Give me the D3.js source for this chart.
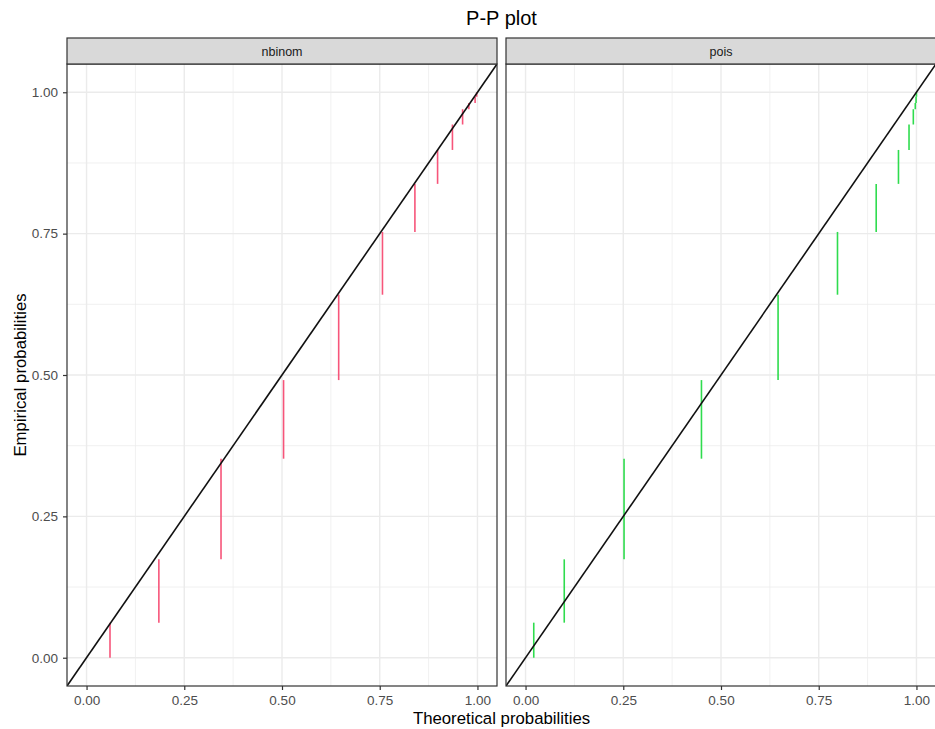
<!DOCTYPE html>
<html>
<head>
<meta charset="utf-8">
<script src="https://cdn.jsdelivr.net/npm/d3@7"></script>
<style>
  html, body { margin: 0; padding: 0; background: #ffffff; }
  svg { display: block; font-family: "Liberation Sans", Arial, Helvetica, sans-serif; }
</style>
</head>
<body>
<svg id="chart" width="935" height="729"></svg>
<script>
// ---- data ----
const panels = ["nbinom", "pois"];
const empiricalSteps = [0, 0.062, 0.174, 0.352, 0.491, 0.642, 0.753, 0.838, 0.898, 0.943, 0.970, 0.981, 0.992, 1.0];
const nbinomTheo = [0.060, 0.185, 0.344, 0.504, 0.645, 0.757, 0.840, 0.898, 0.936, 0.962, 0.978, 0.994, 0.998];
const poisTheo   = [0.021, 0.099, 0.252, 0.450, 0.646, 0.798, 0.897, 0.954, 0.981, 0.992, 0.997, 0.999, 1.0];
const tickValues = [0, 0.25, 0.5, 0.75, 1.0];
const tickLabels = ["0.00", "0.25", "0.50", "0.75", "1.00"];
const minorValues = [0.125, 0.375, 0.625, 0.875];
const panelColors = ["#F7557A", "#2FDC4E"];
const titleText = "P-P plot";
const xTitle = "Theoretical probabilities";
const yTitle = "Empirical probabilities";

const theoByPanel = { nbinom: nbinomTheo, pois: poisTheo };

// ---- layout ----
const svg = d3.select("#chart");
const panelTop = 64, panelBottom = 686;
const stripTop = 38;
const panelLefts = [67, 506];
const panelW = 430;

const y = d3.scaleLinear().domain([-0.05, 1.05]).range([panelBottom, panelTop]);

const gridCol = "#EBEBEB";
const borderCol = "#333333";

svg.append("defs").selectAll("clipPath").data(panels).join("clipPath")
  .attr("id", (d, i) => "clip" + i)
  .append("rect")
  .attr("x", (d, i) => panelLefts[i]).attr("y", panelTop)
  .attr("width", panelW).attr("height", panelBottom - panelTop);

panels.forEach((p, i) => {
  const x0 = panelLefts[i];
  const x = d3.scaleLinear().domain([-0.05, 1.05]).range([x0, x0 + panelW]);
  const g = svg.append("g");
  const gc = g.append("g").attr("clip-path", `url(#clip${i})`);

  // background
  gc.append("rect").attr("x", x0).attr("y", panelTop).attr("width", panelW)
    .attr("height", panelBottom - panelTop).attr("fill", "#fff");

  // minor grid
  minorValues.forEach(v => {
    gc.append("line").attr("x1", x(v)).attr("x2", x(v)).attr("y1", panelTop).attr("y2", panelBottom)
      .attr("stroke", gridCol).attr("stroke-width", 0.7);
    gc.append("line").attr("x1", x0).attr("x2", x0 + panelW).attr("y1", y(v)).attr("y2", y(v))
      .attr("stroke", gridCol).attr("stroke-width", 0.7);
  });
  // major grid
  tickValues.forEach(v => {
    gc.append("line").attr("x1", x(v)).attr("x2", x(v)).attr("y1", panelTop).attr("y2", panelBottom)
      .attr("stroke", gridCol).attr("stroke-width", 1.4);
    gc.append("line").attr("x1", x0).attr("x2", x0 + panelW).attr("y1", y(v)).attr("y2", y(v))
      .attr("stroke", gridCol).attr("stroke-width", 1.4);
  });

  // segments
  const theo = theoByPanel[p];
  const segs = theo.map((t, k) => ({ t, lo: empiricalSteps[k], hi: empiricalSteps[k + 1] }));
  gc.selectAll("line.seg").data(segs).join("line").attr("class", "seg")
    .attr("x1", d => x(d.t)).attr("x2", d => x(d.t))
    .attr("y1", d => y(d.lo)).attr("y2", d => y(d.hi))
    .attr("stroke", panelColors[i]).attr("stroke-width", 1.6);

  // diagonal
  gc.append("line").attr("x1", x(-0.05)).attr("y1", y(-0.05)).attr("x2", x(1.05)).attr("y2", y(1.05))
    .attr("stroke", "#111").attr("stroke-width", 1.6);

  // border
  g.append("rect").attr("x", x0).attr("y", panelTop).attr("width", panelW)
    .attr("height", panelBottom - panelTop).attr("fill", "none")
    .attr("stroke", borderCol).attr("stroke-width", 1.2);

  // strip
  g.append("rect").attr("x", x0).attr("y", stripTop).attr("width", panelW)
    .attr("height", panelTop - stripTop).attr("fill", "#D9D9D9")
    .attr("stroke", borderCol).attr("stroke-width", 1.2);
  g.append("text").attr("x", x0 + panelW / 2).attr("y", 55.5)
    .attr("text-anchor", "middle").attr("font-size", 12.5).attr("fill", "#1A1A1A").text(p);

  // x axis
  const xAxis = d3.axisBottom(x).tickValues(tickValues)
    .tickFormat((d, k) => tickLabels[k]).tickSize(4).tickPadding(5);
  const ax = g.append("g").attr("transform", `translate(0,${panelBottom})`).call(xAxis);
  ax.select(".domain").remove();
  ax.selectAll(".tick line").attr("stroke", borderCol).attr("stroke-width", 1.2);
  ax.selectAll(".tick text").attr("fill", "#4D4D4D").attr("font-size", 13.5)
    .attr("font-family", "Liberation Sans, Arial, sans-serif");
});

// y axis (left panel only)
const yAxis = d3.axisLeft(y).tickValues(tickValues)
  .tickFormat((d, k) => tickLabels[k]).tickSize(4).tickPadding(5);
const ay = svg.append("g").attr("transform", `translate(${panelLefts[0]},0)`).call(yAxis);
ay.select(".domain").remove();
ay.selectAll(".tick line").attr("stroke", borderCol).attr("stroke-width", 1.2);
ay.selectAll(".tick text").attr("fill", "#4D4D4D").attr("font-size", 13.5)
  .attr("font-family", "Liberation Sans, Arial, sans-serif");

// titles
svg.append("text").attr("x", 501.5).attr("y", 25).attr("text-anchor", "middle")
  .attr("font-size", 20).attr("fill", "#000").text(titleText);
svg.append("text").attr("x", 501.5).attr("y", 723.5).attr("text-anchor", "middle")
  .attr("font-size", 16.8).attr("fill", "#000").text(xTitle);
svg.append("text").attr("transform", `translate(26,${(panelTop + panelBottom) / 2}) rotate(-90)`)
  .attr("text-anchor", "middle").attr("font-size", 16.8).attr("fill", "#000").text(yTitle);
</script>
</body>
</html>
